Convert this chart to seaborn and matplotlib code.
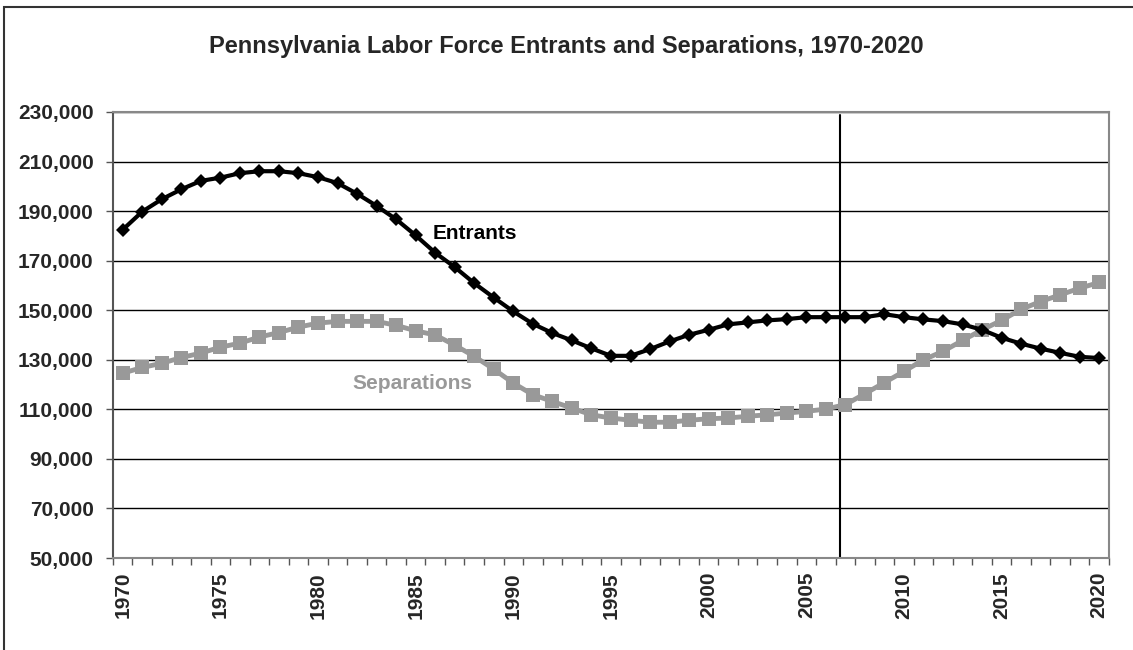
import numpy as np
import pandas as pd
import matplotlib
matplotlib.use("Agg")
import matplotlib.pyplot as plt
from matplotlib.patches import Rectangle
from matplotlib.ticker import FuncFormatter, MultipleLocator
import seaborn as sns

# -------------------------
# Data
# -------------------------
years = list(range(1970, 2021))

entrants = [
    182500, 189800, 194800, 198800, 202200, 203500, 205300, 206100, 206100, 205300,
    203700, 201300, 197000, 192100, 186700, 180200, 173200, 167400, 160900, 155100,
    149500, 144500, 140800, 137800, 134600, 131600, 131600, 134300, 137400, 140100,
    142100, 144300, 145100, 145900, 146400, 147200, 147200, 147200, 147200, 148400,
    147200, 146300, 145600, 144300, 142100, 138900, 136500, 134500, 132800, 131200,
    130700,
]

separations = [
    124600, 126900, 128600, 130900, 132700, 135100, 136700, 139200, 141000, 143200,
    144800, 145500, 145500, 145500, 143900, 141700, 140000, 135900, 131400, 126200,
    120600, 115900, 113200, 110500, 107800, 106500, 105600, 104800, 104800, 105600,
    106200, 106500, 107200, 107800, 108500, 109200, 110100, 111900, 116300, 120800,
    125300, 130000, 133400, 137800, 142100, 145900, 150400, 153500, 156200, 158900,
    161200,
]

title = "Pennsylvania Labor Force Entrants and Separations, 1970-2020"
year_labels = list(range(1970, 2021, 5))
y_ticks = list(range(50000, 230001, 20000))
forecast_start = 2006.75

df = pd.DataFrame({"year": years, "Entrants": entrants, "Separations": separations})

# -------------------------
# Plot
# -------------------------
sns.set_style("white")
plt.rcParams["font.family"] = ["Liberation Sans", "DejaVu Sans"]

fig = plt.figure(figsize=(11.33, 6.5), dpi=100)
ax = fig.add_axes([0.0997, 0.1415, 0.8791, 0.6862])

ax.set_xlim(1969.5, 2020.5)
ax.set_ylim(50000, 230000)

for v in y_ticks[1:]:
    ax.axhline(v, color="black", linewidth=1.0, zorder=1)

ax.axvline(forecast_start, ymin=0, ymax=0.993, color="black", linewidth=1.5, zorder=2)

sns.lineplot(data=df, x="year", y="Separations", ax=ax, color="#999999",
             linewidth=3.5, marker="s", markersize=9.5, markeredgewidth=0,
             zorder=3)
sns.lineplot(data=df, x="year", y="Entrants", ax=ax, color="black",
             linewidth=3.0, marker="D", markersize=7.5, markeredgewidth=0,
             zorder=4)

ax.text(1985.85, 181000, "Entrants", fontsize=15, fontweight="bold",
        color="black", ha="left", va="center")
ax.text(1981.75, 120500, "Separations", fontsize=15, fontweight="bold",
        color="#999999", ha="left", va="center")

# axes styling
ax.set_xlabel("")
ax.set_ylabel("")
ax.set_yticks(y_ticks)
ax.yaxis.set_major_formatter(FuncFormatter(lambda v, p: f"{int(v):,}"))
ax.set_xticks(year_labels)
ax.set_xticklabels([str(y) for y in year_labels], rotation=90)
ax.xaxis.set_minor_locator(MultipleLocator(1, offset=0.5))
ax.tick_params(axis="x", which="major", length=0, pad=10, labelsize=15)
ax.tick_params(axis="x", which="minor", length=5, width=1, color="#555555",
               direction="out", bottom=True)
ax.tick_params(axis="y", which="major", length=5, width=1, color="#555555",
               direction="out", left=True, pad=9, labelsize=15)
for lab in ax.get_xticklabels() + ax.get_yticklabels():
    lab.set_fontweight("bold")

for side in ["top", "right", "bottom"]:
    ax.spines[side].set_color("#888888")
    ax.spines[side].set_linewidth(1.5)
ax.spines["left"].set_color("#555555")
ax.spines["left"].set_linewidth(1.5)

fig.text(0.5, 0.929, title, ha="center", va="center", fontsize=17,
         fontweight="bold")

# outer chart border (runs off right and bottom edges)
fig.patches.append(Rectangle((4 / 1133, -0.05), 1.1, 0.989 + 0.05,
                             transform=fig.transFigure, fill=False,
                             edgecolor="#333333", linewidth=1.5))

fig.savefig("out.png", dpi=100)
